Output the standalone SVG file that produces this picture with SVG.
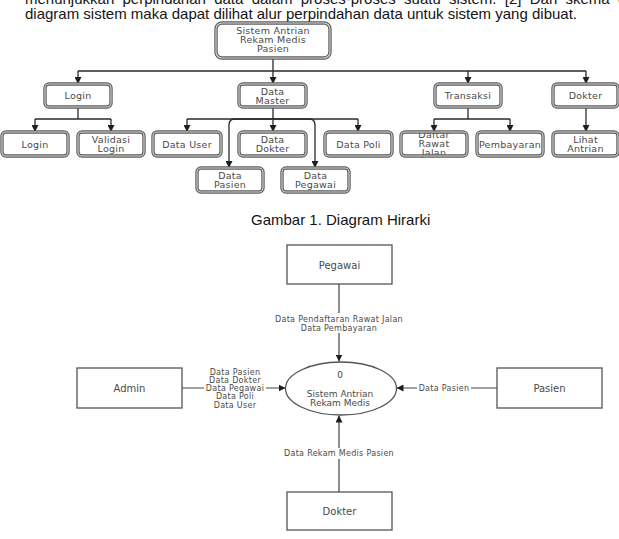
<svg xmlns="http://www.w3.org/2000/svg" width="619" height="539" viewBox="0 0 619 539">
  <defs>
    <marker id="ah" viewBox="0 0 10 10" refX="10" refY="5" markerWidth="7" markerHeight="7" markerUnits="userSpaceOnUse" orient="auto">
      <path d="M0,0L10,5L0,10z" fill="#1e1e1e"/>
    </marker>
    <style>
      .para { font-family: "Liberation Sans", Arial, sans-serif; font-size: 15px; fill: #141414; }
      .hb-out { fill: #fff; stroke: #5e5e5e; stroke-width: 3.4; }
      .hb-ring { fill: none; stroke: #5e5e5e; stroke-width: 3.4; }
      .hb-in { fill: none; stroke: #d6d6d6; stroke-width: 1.1; }
      .bx { font-family: "DejaVu Sans", Verdana, sans-serif; font-size: 9.5px; letter-spacing: 0.25px; fill: #4a4a4a; text-anchor: middle; }
      .hc { fill: none; stroke: #2a2a2a; stroke-width: 1.3; }
      .ha { fill: none; stroke: #2a2a2a; stroke-width: 1.3; marker-end: url(#ah); }
      .ent { fill: #fff; stroke: #555; stroke-width: 1.3; }
      .ent-t { font-family: "DejaVu Sans", Verdana, sans-serif; font-size: 10px; fill: #4a4a4a; text-anchor: middle; }
      .proc-t { font-family: "DejaVu Sans", Verdana, sans-serif; font-size: 9px; fill: #4a4a4a; text-anchor: middle; }
      .flow { fill: none; stroke: #444; stroke-width: 1.2; marker-end: url(#ah); }
      .fl { font-family: "DejaVu Sans", Verdana, sans-serif; font-size: 8px; letter-spacing: 0.3px; fill: #4a4a4a; text-anchor: middle; }
      .lbg { fill: #fff; }
    </style>
  </defs>

  <rect width="619" height="539" fill="#fff"/>

  <!-- paragraph text above the figure -->
  <text class="para" x="25" y="4" word-spacing="4.1">menunjukkan perpindahan data dalam proses-proses suatu sistem. [2] Dari skema d</text>
  <text class="para" x="25" y="19">diagram sistem maka dapat dilihat alur perpindahan data untuk sistem yang dibuat.</text>

  <!-- hierarchy connectors -->
  <g id="hierarchy-connectors">
    <path class="hc" d="M273,58V71M78,71H586"/>
    <path class="ha" d="M78,71V84"/>
    <path class="ha" d="M273,71V84"/>
    <path class="ha" d="M468,71V84"/>
    <path class="ha" d="M586,71V84"/>
    <path class="hc" d="M78,107V119M35,119H111"/>
    <path class="ha" d="M35,119V132"/>
    <path class="ha" d="M111,119V132"/>
    <path class="ha" d="M273,107V132"/>
    <path class="hc" d="M187,119H358"/>
    <path class="ha" d="M187,119V132"/>
    <path class="ha" d="M358,119V132"/>
    <path class="ha" d="M273,119H235Q229,119 229,125V168"/>
    <path class="ha" d="M273,119H309Q315,119 315,125V168"/>
    <path class="hc" d="M468,107V119M434,119H510"/>
    <path class="ha" d="M434,119V132"/>
    <path class="ha" d="M510,119V132"/>
    <path class="ha" d="M586,107V132"/>
  </g>

  <!-- hierarchy nodes -->
  <g id="h-root">
    <rect class="hb-out" x="216" y="23" width="114" height="35" rx="6"/>
    <rect class="hb-in" x="216" y="23" width="114" height="35" rx="6"/>
    <text class="bx" x="273" y="33.5">Sistem Antrian</text>
    <text class="bx" x="273" y="42.5">Rekam Medis</text>
    <text class="bx" x="273" y="51.5">Pasien</text>
  </g>
  <g id="h-login">
    <rect class="hb-out" x="45" y="84" width="66" height="23" rx="4"/>
    <rect class="hb-in" x="45" y="84" width="66" height="23" rx="4"/>
    <text class="bx" x="78" y="99">Login</text>
  </g>
  <g id="h-data-master">
    <rect class="hb-out" x="239" y="84" width="67" height="23" rx="4"/>
    <rect class="hb-in" x="239" y="84" width="67" height="23" rx="4"/>
    <text class="bx" x="272.5" y="95">Data</text>
    <text class="bx" x="272.5" y="104">Master</text>
  </g>
  <g id="h-transaksi">
    <rect class="hb-out" x="435" y="84" width="66" height="23" rx="4"/>
    <rect class="hb-in" x="435" y="84" width="66" height="23" rx="4"/>
    <text class="bx" x="468" y="99">Transaksi</text>
  </g>
  <g id="h-dokter">
    <rect class="hb-out" x="553" y="84" width="65" height="23" rx="4"/>
    <rect class="hb-in" x="553" y="84" width="65" height="23" rx="4"/>
    <text class="bx" x="585.5" y="99">Dokter</text>
  </g>

  <g id="h-login-2">
    <rect class="hb-out" x="2" y="132" width="66" height="24" rx="4"/>
    <rect class="hb-in" x="2" y="132" width="66" height="24" rx="4"/>
    <text class="bx" x="35" y="147.5">Login</text>
  </g>
  <g id="h-validasi-login">
    <rect class="hb-out" x="78" y="132" width="66" height="24" rx="4"/>
    <rect class="hb-in" x="78" y="132" width="66" height="24" rx="4"/>
    <text class="bx" x="111" y="142.5">Validasi</text>
    <text class="bx" x="111" y="151.5">Login</text>
  </g>
  <g id="h-data-user">
    <rect class="hb-out" x="153" y="132" width="68" height="24" rx="4"/>
    <rect class="hb-in" x="153" y="132" width="68" height="24" rx="4"/>
    <text class="bx" x="187" y="147.5">Data User</text>
  </g>
  <g id="h-data-dokter">
    <rect class="hb-out" x="239" y="132" width="67" height="24" rx="4"/>
    <rect class="hb-in" x="239" y="132" width="67" height="24" rx="4"/>
    <text class="bx" x="272.5" y="142.5">Data</text>
    <text class="bx" x="272.5" y="151.5">Dokter</text>
  </g>
  <g id="h-data-poli">
    <rect class="hb-out" x="325" y="132" width="67" height="24" rx="4"/>
    <rect class="hb-in" x="325" y="132" width="67" height="24" rx="4"/>
    <text class="bx" x="358.5" y="147.5">Data Poli</text>
  </g>
  <g id="h-daftar-rawat-jalan">
    <!-- label overflows the box, so the frame is painted over it -->
    <rect x="401" y="132" width="66" height="24" rx="4" fill="#fff"/>
    <text class="bx" x="434" y="137.5">Daftar</text>
    <text class="bx" x="434" y="146.5">Rawat</text>
    <text class="bx" x="434" y="155.5">Jalan</text>
    <rect class="hb-ring" x="401" y="132" width="66" height="24" rx="4"/>
    <rect class="hb-in" x="401" y="132" width="66" height="24" rx="4"/>
  </g>
  <g id="h-pembayaran">
    <rect class="hb-out" x="477" y="132" width="66" height="24" rx="4"/>
    <rect class="hb-in" x="477" y="132" width="66" height="24" rx="4"/>
    <text class="bx" x="510" y="147.5">Pembayaran</text>
  </g>
  <g id="h-lihat-antrian">
    <rect class="hb-out" x="553" y="132" width="65" height="24" rx="4"/>
    <rect class="hb-in" x="553" y="132" width="65" height="24" rx="4"/>
    <text class="bx" x="585.5" y="142.5">Lihat</text>
    <text class="bx" x="585.5" y="151.5">Antrian</text>
  </g>
  <g id="h-data-pasien">
    <rect class="hb-out" x="197" y="168" width="66" height="24" rx="4"/>
    <rect class="hb-in" x="197" y="168" width="66" height="24" rx="4"/>
    <text class="bx" x="230" y="178.5">Data</text>
    <text class="bx" x="230" y="187.5">Pasien</text>
  </g>
  <g id="h-data-pegawai">
    <rect class="hb-out" x="282" y="168" width="67" height="24" rx="4"/>
    <rect class="hb-in" x="282" y="168" width="67" height="24" rx="4"/>
    <text class="bx" x="315.5" y="178.5">Data</text>
    <text class="bx" x="315.5" y="187.5">Pegawai</text>
  </g>

  <!-- caption -->
  <text class="para" x="251" y="225">Gambar 1. Diagram Hirarki</text>

  <!-- context diagram flows -->
  <g id="dfd-connectors">
    <path class="flow" d="M339,284V361.5"/>
    <rect class="lbg" x="272" y="313" width="134" height="20"/>
    <text class="fl" x="339" y="322">Data Pendaftaran Rawat Jalan</text>
    <text class="fl" x="339" y="331">Data Pembayaran</text>

    <path class="flow" d="M182,388H285.5"/>
    <rect class="lbg" x="204" y="383" width="62" height="9"/>
    <text class="fl" x="235" y="374.5">Data Pasien</text>
    <text class="fl" x="235" y="382.8">Data Dokter</text>
    <text class="fl" x="235" y="391">Data Pegawai</text>
    <text class="fl" x="235" y="399.3">Data Poli</text>
    <text class="fl" x="235" y="407.5">Data User</text>

    <path class="flow" d="M497,388H396.5"/>
    <rect class="lbg" x="417" y="383" width="54" height="10"/>
    <text class="fl" x="444" y="391">Data Pasien</text>

    <path class="flow" d="M339,492V415.5"/>
    <rect class="lbg" x="280" y="448" width="118" height="11"/>
    <text class="fl" x="339" y="456">Data Rekam Medis Pasien</text>
  </g>

  <!-- context diagram nodes -->
  <g id="d-pegawai">
    <rect class="ent" x="287" y="245" width="105" height="39"/>
    <text class="ent-t" x="339.5" y="268.5">Pegawai</text>
  </g>
  <g id="d-admin">
    <rect class="ent" x="77" y="368" width="105" height="40"/>
    <text class="ent-t" x="129.5" y="391.5">Admin</text>
  </g>
  <g id="d-pasien">
    <rect class="ent" x="497" y="368" width="105" height="40"/>
    <text class="ent-t" x="549.5" y="391.5">Pasien</text>
  </g>
  <g id="d-dokter">
    <rect class="ent" x="287" y="492" width="105" height="38"/>
    <text class="ent-t" x="339.5" y="514.5">Dokter</text>
  </g>
  <g id="d-process">
    <ellipse cx="341" cy="388.5" rx="55.5" ry="26.5" fill="#fff" stroke="#555" stroke-width="1.3"/>
    <text class="proc-t" x="340" y="378">0</text>
    <text class="proc-t" x="340" y="396.5">Sistem Antrian</text>
    <text class="proc-t" x="340" y="405.5">Rekam Medis</text>
  </g>
</svg>
